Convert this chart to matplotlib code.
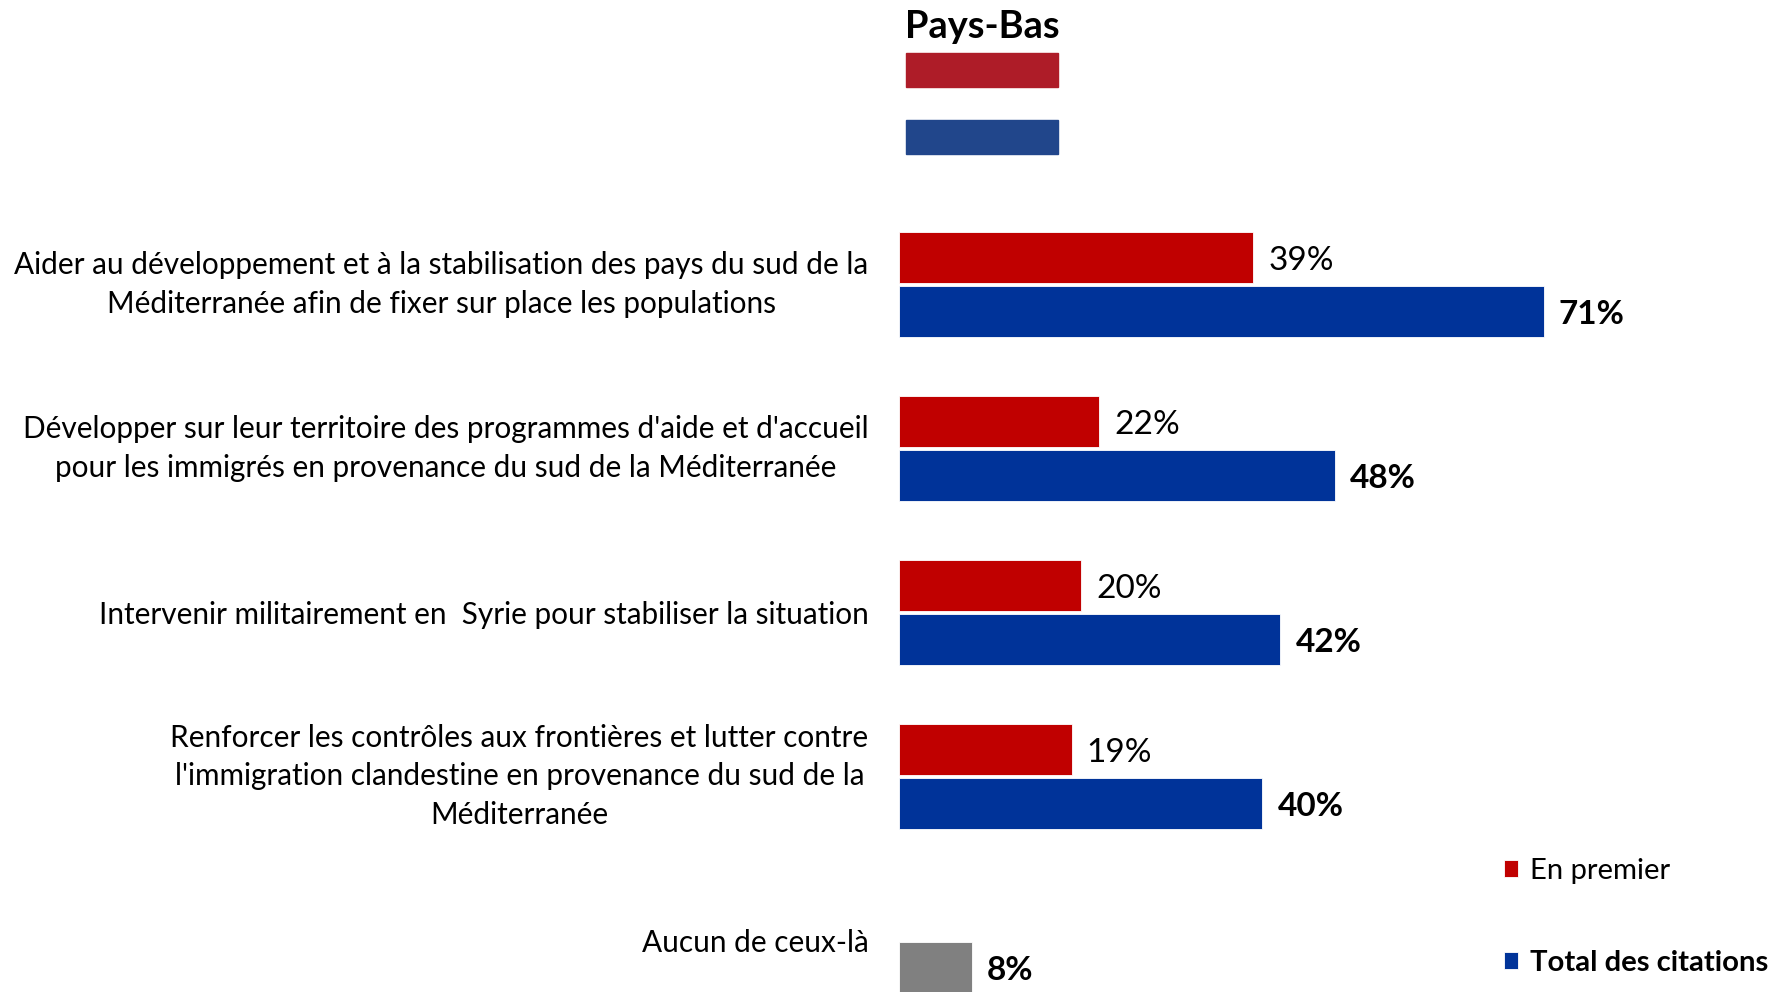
import matplotlib
matplotlib.use("Agg")
import matplotlib.pyplot as plt
from matplotlib.patches import Rectangle
import numpy as np

plt.rcParams['font.family'] = ['Lato', 'DejaVu Sans']

country = "Pays-Bas"
categories = [
    "Aider au développement et à la stabilisation des pays du sud de la\nMéditerranée afin de fixer sur place les populations",
    "Développer sur leur territoire des programmes d'aide et d'accueil\npour les immigrés en provenance du sud de la Méditerranée",
    "Intervenir militairement en  Syrie pour stabiliser la situation",
    "Renforcer les contrôles aux frontières et lutter contre\nl'immigration clandestine en provenance du sud de la\nMéditerranée",
    "Aucun de ceux-là",
]
en_premier = [39, 22, 20, 19]
total_citations = [71, 48, 42, 40]
aucun = [8]
series_names = ["En premier", "Total des citations"]

RED = "#C00000"
BLUE = "#003399"
GREY = "#808080"

W, H = 1774, 992
fig = plt.figure(figsize=(W / 100, H / 100), dpi=100)
ax = fig.add_axes([899 / W, 0, 1 - 899 / W, 1])

bh = 51 / 164
off = 27 / 164
pos = np.arange(len(categories))
n = len(en_premier)

b1 = ax.barh(pos[:n] - off, en_premier, height=bh, color=RED, edgecolor="white", linewidth=0.6, label=series_names[0])
b2 = ax.barh(pos[:n] + off, total_citations, height=bh, color=BLUE, edgecolor="white", linewidth=0.6, label=series_names[1])
b3 = ax.barh(pos[n:] + off, aucun, height=bh, color=GREY, edgecolor="white", linewidth=0.6)

lab_fs = 24
labels = []
labels += ax.bar_label(b1, fmt="%g%%", padding=11, fontsize=lab_fs, color="black")
labels += ax.bar_label(b2, fmt="%g%%", padding=11, fontsize=lab_fs, fontweight="bold", color="black")
labels += ax.bar_label(b3, fmt="%g%%", padding=11, fontsize=lab_fs, fontweight="bold", color="black")
for t in labels:
    t.xyann = (11, -2.5)

ax.set_xlim(0, (W - 899) / 9.08)
ax.set_ylim((992 - 284.5) / 164, -284.5 / 164)
ax.set_yticks(pos, categories)
ax.tick_params(axis="y", length=0, pad=22, labelsize=21.4)
for t in ax.get_yticklabels():
    t.set_multialignment("center")
    t.set_linespacing(1.47)
    if "\n" in t.get_text():
        t.set_verticalalignment("center")
ax.set_xticks([])
for s in ax.spines.values():
    s.set_visible(False)

# Title and flag decoration
fig.text(982 / W, 1 - 27 / H, country, ha="center", va="center", fontsize=27.4, fontweight="bold")
fig.patches.append(Rectangle((906 / W, 1 - 87 / H), 152 / W, 34 / H, transform=fig.transFigure, color="#AE1C28"))
fig.patches.append(Rectangle((906 / W, 1 - 154 / H), 152 / W, 34 / H, transform=fig.transFigure, color="#21468B"))

leg = fig.legend(handles=[b1, b2], labels=series_names, loc="upper left",
                 bbox_to_anchor=(1489 / W, 1 - 843 / H), frameon=False,
                 fontsize=21.1, handlelength=0.5, handleheight=0.5, handletextpad=0.4,
                 labelspacing=2.26, borderpad=0)
leg.get_texts()[1].set_fontweight("bold")

fig.savefig("out.png", dpi=100)
